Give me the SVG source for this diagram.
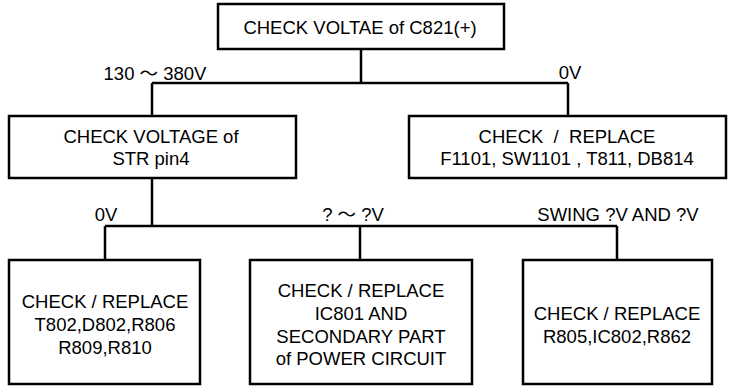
<svg xmlns="http://www.w3.org/2000/svg" width="735" height="387" viewBox="0 0 735 387">
<style>
.box{fill:#fff;stroke:#000;stroke-width:2.5}
.ln{fill:none;stroke:#000;stroke-width:2.5}
text{font-family:"Liberation Sans","Noto Sans CJK JP",Arial,sans-serif;font-size:18.5px;fill:#000;text-anchor:middle;white-space:pre}
</style>
<rect width="735" height="387" fill="#fff"/>
<g id="connectors">
<path class="ln" d="M361 49V83M152 83H568M152 83V116M568 83V116"/>
<path class="ln" d="M152 178V226M105 226H617M105 226V260M360 226V260M617 226V260"/>
<text x="155" y="80">130 ～ 380V</text>
<text x="570" y="79">0V</text>
<text x="106" y="221">0V</text>
<text x="353" y="221">? ～ ?V</text>
<text x="618" y="221">SWING ?V AND ?V</text>
</g>
<g id="n1">
<rect class="box" x="218" y="4" width="286" height="45"/>
<text x="360" y="34">CHECK VOLTAE of C821(+)</text>
</g>
<g id="n2">
<rect class="box" x="9" y="116" width="287" height="62"/>
<text x="151" y="143">CHECK VOLTAGE of</text>
<text x="151" y="165">STR pin4</text>
</g>
<g id="n3">
<rect class="box" x="409" y="116" width="317" height="62"/>
<text x="567" y="143">CHECK  /  REPLACE</text>
<text x="567" y="165">F1101, SW1101 , T811, DB814</text>
</g>
<g id="n4">
<rect class="box" x="9" y="260" width="191" height="124"/>
<text x="105" y="308">CHECK / REPLACE</text>
<text x="105" y="331">T802,D802,R806</text>
<text x="105" y="354">R809,R810</text>
</g>
<g id="n5">
<rect class="box" x="250" y="260" width="222" height="124"/>
<text x="361" y="297">CHECK / REPLACE</text>
<text x="361" y="320">IC801 AND</text>
<text x="361" y="343">SECONDARY PART</text>
<text x="361" y="365">of POWER CIRCUIT</text>
</g>
<g id="n6">
<rect class="box" x="523" y="260" width="189" height="124"/>
<text x="617" y="320">CHECK / REPLACE</text>
<text x="617" y="343">R805,IC802,R862</text>
</g>
</svg>
